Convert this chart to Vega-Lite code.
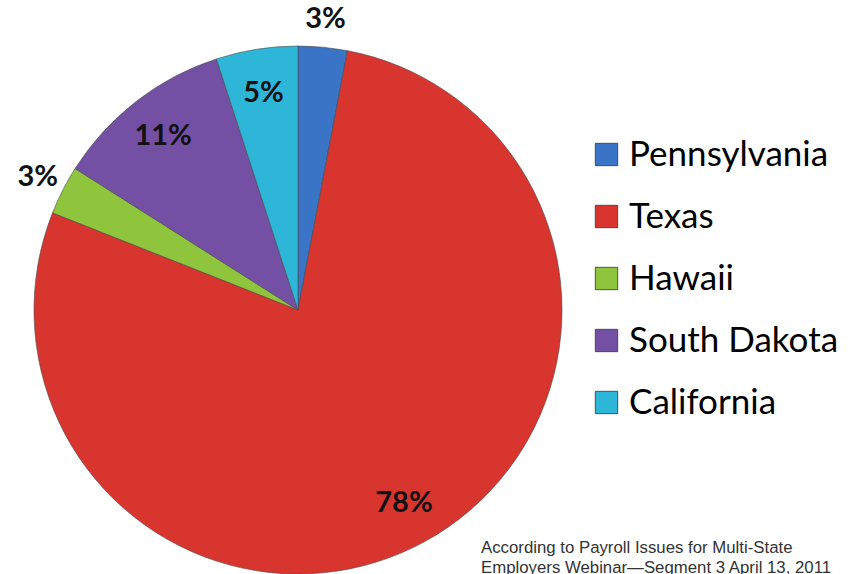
{
  "$schema": "https://vega.github.io/schema/vega-lite/v6.json",
  "autosize": "none",
  "width": 596,
  "height": 620,
  "padding": {"left": 0, "top": 0, "right": 260, "bottom": 0},
  "background": "white",
  "config": {"view": {"stroke": null}},
  "title": {
    "text": ["According to Payroll Issues for Multi-State", "Employers Webinar\u2014Segment 3 April 13, 2011"],
    "orient": "top",
    "anchor": "start",
    "frame": "group",
    "baseline": "top",
    "font": "Liberation Sans",
    "fontSize": 16.8,
    "fontWeight": "normal",
    "color": "#333333",
    "lineHeight": 20,
    "dx": 481,
    "dy": 581
  },
  "data": {
    "values": [
      {"state": "Pennsylvania", "pct": 3, "label": "3%", "rank": 1},
      {"state": "Texas", "pct": 78, "label": "78%", "rank": 2},
      {"state": "Hawaii", "pct": 3, "label": "3%", "rank": 3},
      {"state": "South Dakota", "pct": 11, "label": "11%", "rank": 4},
      {"state": "California", "pct": 5, "label": "5%", "rank": 5}
    ]
  },
  "encoding": {
    "theta": {"field": "pct", "type": "quantitative", "stack": true},
    "order": {"field": "rank", "type": "quantitative"}
  },
  "layer": [
    {
      "mark": {"type": "arc", "outerRadius": 264, "stroke": "#4a4a4a", "strokeWidth": 0.6},
      "encoding": {
        "color": {
          "field": "state",
          "type": "nominal",
          "scale": {
            "domain": ["Pennsylvania", "Texas", "Hawaii", "South Dakota", "California"],
            "range": ["#3a74c6", "#d8352f", "#8fc43d", "#7450a4", "#2eb6d9"]
          },
          "legend": {
            "title": null,
            "orient": "none",
            "legendX": 589,
            "legendY": 137,
            "symbolType": "square",
            "symbolSize": 500,
            "symbolStrokeColor": "#333333",
            "symbolStrokeWidth": 0.8,
            "symbolOpacity": 1,
            "labelFont": "Lato",
            "labelFontSize": 35,
            "labelColor": "#000000",
            "labelOffset": 5,
            "labelLimit": 400,
            "rowPadding": 26
          }
        }
      }
    },
    {
      "mark": {"type": "text", "radius": 220, "font": "Lato", "fontWeight": "bold", "fontSize": 29, "color": "#111111"},
      "encoding": {
        "text": {"condition": {"test": "datum.pct >= 5", "field": "label"}, "value": ""}
      }
    },
    {
      "mark": {"type": "text", "radius": 292, "font": "Lato", "fontWeight": "bold", "fontSize": 29, "color": "#111111"},
      "encoding": {
        "text": {"condition": {"test": "datum.pct < 5", "field": "label"}, "value": ""}
      }
    }
  ]
}
